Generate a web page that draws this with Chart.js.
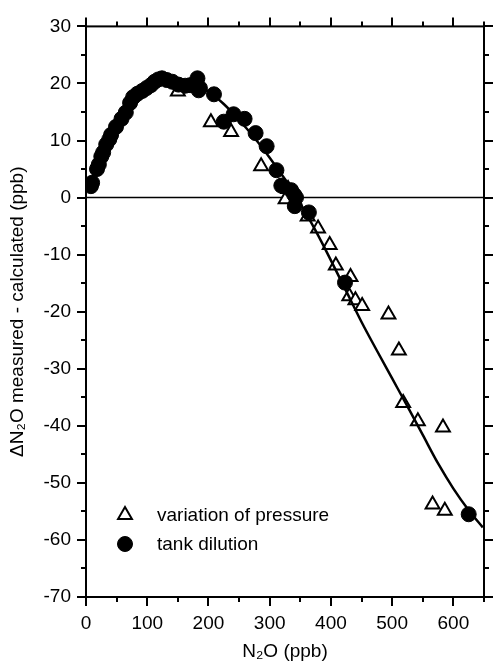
<!DOCTYPE html>
<html>
<head>
<meta charset="utf-8">
<script src="https://cdn.jsdelivr.net/npm/chart.js@4/dist/chart.umd.min.js"></script>
<style>
  html, body { margin: 0; padding: 0; background: #fff; }
  #wrap { width: 494px; height: 665px; }
</style>
</head>
<body>
<div id="wrap"><canvas id="chart" width="494" height="665"></canvas></div>
<script>
// tank dilution measurements (ppb)
const dilutionX = [8, 10, 18, 21, 25, 28, 33, 38, 41, 49, 58, 65, 72, 77, 84, 92, 99, 106, 112, 118,
  124, 132, 141, 151, 162, 170, 182, 186, 184, 209, 225, 241, 259, 277, 295, 311, 319, 335, 340, 343,
  341, 364, 423, 625];
const dilutionY = [2.0, 2.6, 5.0, 5.8, 7.2, 7.9, 9.3, 10.2, 11.0, 12.4, 13.8, 14.9, 16.6, 17.6, 18.2, 18.7, 19.2, 19.7, 20.3, 20.7,
  20.9, 20.6, 20.3, 19.8, 19.6, 19.7, 20.9, 19.2, 18.8, 18.1, 13.3, 14.6, 13.8, 11.3, 9.0, 4.8, 2.1, 1.3, 0.5, 0.0,
  -1.5, -2.6, -14.9, -55.5];

// pressure variation measurements (ppb)
const pressureX = [150, 204, 237, 286, 330, 326, 362, 379, 398, 408, 432, 430, 440, 451, 494, 511, 518, 542, 583, 566, 586];
const pressureY = [18.6, 13.2, 11.5, 5.5, 1.5, -0.3, -3.3, -5.4, -8.3, -11.9, -13.9, -17.3, -18.0, -19.0, -20.5, -26.8, -36.0, -39.2, -40.3, -53.8, -54.9];

// fitted curve
const fitX = [0, 25, 50, 75, 100, 125, 150, 175, 200, 225, 250, 275, 300, 325, 350, 375, 400, 425, 450, 475, 500, 525, 550, 575, 600, 625, 648];
const fitY = [1.0, 7.0, 11.8, 15.6, 18.4, 20.0, 20.5, 20.0, 18.6, 16.4, 13.6, 10.5, 7.0, 3.2, -1.0, -5.8, -11.0, -16.4, -21.8, -26.8, -31.7, -36.6, -41.6, -46.6, -51.0, -54.8, -57.8];

const xTicks = [0, 100, 200, 300, 400, 500, 600];
const yTicks = [-70, -60, -50, -40, -30, -20, -10, 0, 10, 20, 30];

const FONT = "'Liberation Sans', Arial, Helvetica, sans-serif";

const toPoints = (xs, ys) => xs.map((x, i) => ({ x: x, y: ys[i] }));

// box round the plot with outward ticks on all four sides, plus the zero line
const frameTicks = {
  id: 'frameTicks',
  beforeDatasetsDraw(chart) {
    const { ctx, chartArea: a, scales: { y } } = chart;
    const y0 = y.getPixelForValue(0);
    ctx.save();
    ctx.strokeStyle = '#000';
    ctx.lineWidth = 1.5;
    ctx.beginPath();
    ctx.moveTo(a.left, y0);
    ctx.lineTo(a.right, y0);
    ctx.stroke();
    ctx.restore();
  },
  afterDraw(chart) {
    const { ctx, chartArea: a, scales: { x, y } } = chart;
    ctx.save();
    ctx.strokeStyle = '#000';
    ctx.lineWidth = 2;
    ctx.strokeRect(a.left, a.top, a.right - a.left, a.bottom - a.top);
    ctx.beginPath();
    for (let v = x.min; v <= x.max; v += 50) {
      const px = Math.round(x.getPixelForValue(v));
      const len = v % 100 === 0 ? 9 : 5;
      ctx.moveTo(px, a.bottom); ctx.lineTo(px, a.bottom + len);
      ctx.moveTo(px, a.top); ctx.lineTo(px, a.top - len);
    }
    for (let v = y.min; v <= y.max; v += 5) {
      const py = Math.round(y.getPixelForValue(v));
      const len = v % 10 === 0 ? 9 : 5;
      ctx.moveTo(a.left, py); ctx.lineTo(a.left - len, py);
      ctx.moveTo(a.right, py); ctx.lineTo(a.right + len, py);
    }
    ctx.stroke();
    ctx.restore();
  }
};

// legend inside the plot, lower left
const innerLegend = {
  id: 'innerLegend',
  afterDatasetsDraw(chart) {
    const { ctx, chartArea: a } = chart;
    const rows = [
      { ds: chart.data.datasets[1], y: 515 },
      { ds: chart.data.datasets[2], y: 544 }
    ];
    ctx.save();
    rows.forEach(r => {
      ctx.fillStyle = r.ds.backgroundColor;
      ctx.strokeStyle = r.ds.borderColor;
      ctx.lineWidth = r.ds.borderWidth;
      Chart.helpers.drawPoint(ctx, {
        pointStyle: r.ds.pointStyle,
        radius: r.ds.pointRadius,
        rotation: 0,
        borderWidth: r.ds.borderWidth
      }, a.left + 39, r.y);
      ctx.fillStyle = '#000';
      ctx.font = '19px ' + FONT;
      ctx.textBaseline = 'middle';
      ctx.textAlign = 'left';
      ctx.fillText(r.ds.label, a.left + 71, r.y + 1);
    });
    ctx.restore();
  }
};

new Chart(document.getElementById('chart'), {
  type: 'scatter',
  data: {
    datasets: [
      {
        type: 'line',
        label: 'fit',
        data: toPoints(fitX, fitY),
        borderColor: '#000',
        borderWidth: 2.5,
        pointRadius: 0,
        fill: false,
        cubicInterpolationMode: 'monotone',
        order: 0
      },
      {
        label: 'variation of pressure',
        data: toPoints(pressureX, pressureY),
        pointStyle: 'triangle',
        pointRadius: 8,
        backgroundColor: '#fff',
        borderColor: '#000',
        borderWidth: 2,
        order: 2
      },
      {
        label: 'tank dilution',
        data: toPoints(dilutionX, dilutionY),
        pointStyle: 'circle',
        pointRadius: 7.5,
        backgroundColor: '#000',
        borderColor: '#000',
        borderWidth: 1,
        order: 1
      }
    ]
  },
  options: {
    responsive: false,
    animation: false,
    devicePixelRatio: 1,
    layout: { padding: { top: 22, right: 7, left: 0, bottom: 0 } },
    plugins: {
      legend: { display: false },
      tooltip: { enabled: false }
    },
    scales: {
      x: {
        type: 'linear',
        min: 0,
        max: 650,
        afterFit(scale) { scale.height = 68; },
        afterBuildTicks(scale) { scale.ticks = xTicks.map(v => ({ value: v })); },
        grid: { display: false, drawTicks: false },
        border: { display: false },
        ticks: {
          autoSkip: false,
          maxRotation: 0,
          padding: 15,
          color: '#000',
          font: { family: FONT, size: 19 }
        },
        title: {
          display: true,
          text: 'N₂O (ppb)',
          color: '#000',
          padding: { top: 0, bottom: 2 },
          font: { family: FONT, size: 19 }
        }
      },
      y: {
        type: 'linear',
        min: -70,
        max: 30,
        afterFit(scale) { scale.width = 86; },
        afterBuildTicks(scale) { scale.ticks = yTicks.map(v => ({ value: v })); },
        grid: { display: false, drawTicks: false },
        border: { display: false },
        ticks: {
          padding: 15,
          color: '#000',
          font: { family: FONT, size: 19 }
        },
        title: {
          display: true,
          text: 'ΔN₂O measured - calculated (ppb)',
          color: '#000',
          padding: { top: 6, bottom: 0 },
          font: { family: FONT, size: 19 }
        }
      }
    }
  },
  plugins: [frameTicks, innerLegend]
});
</script>
</body>
</html>
